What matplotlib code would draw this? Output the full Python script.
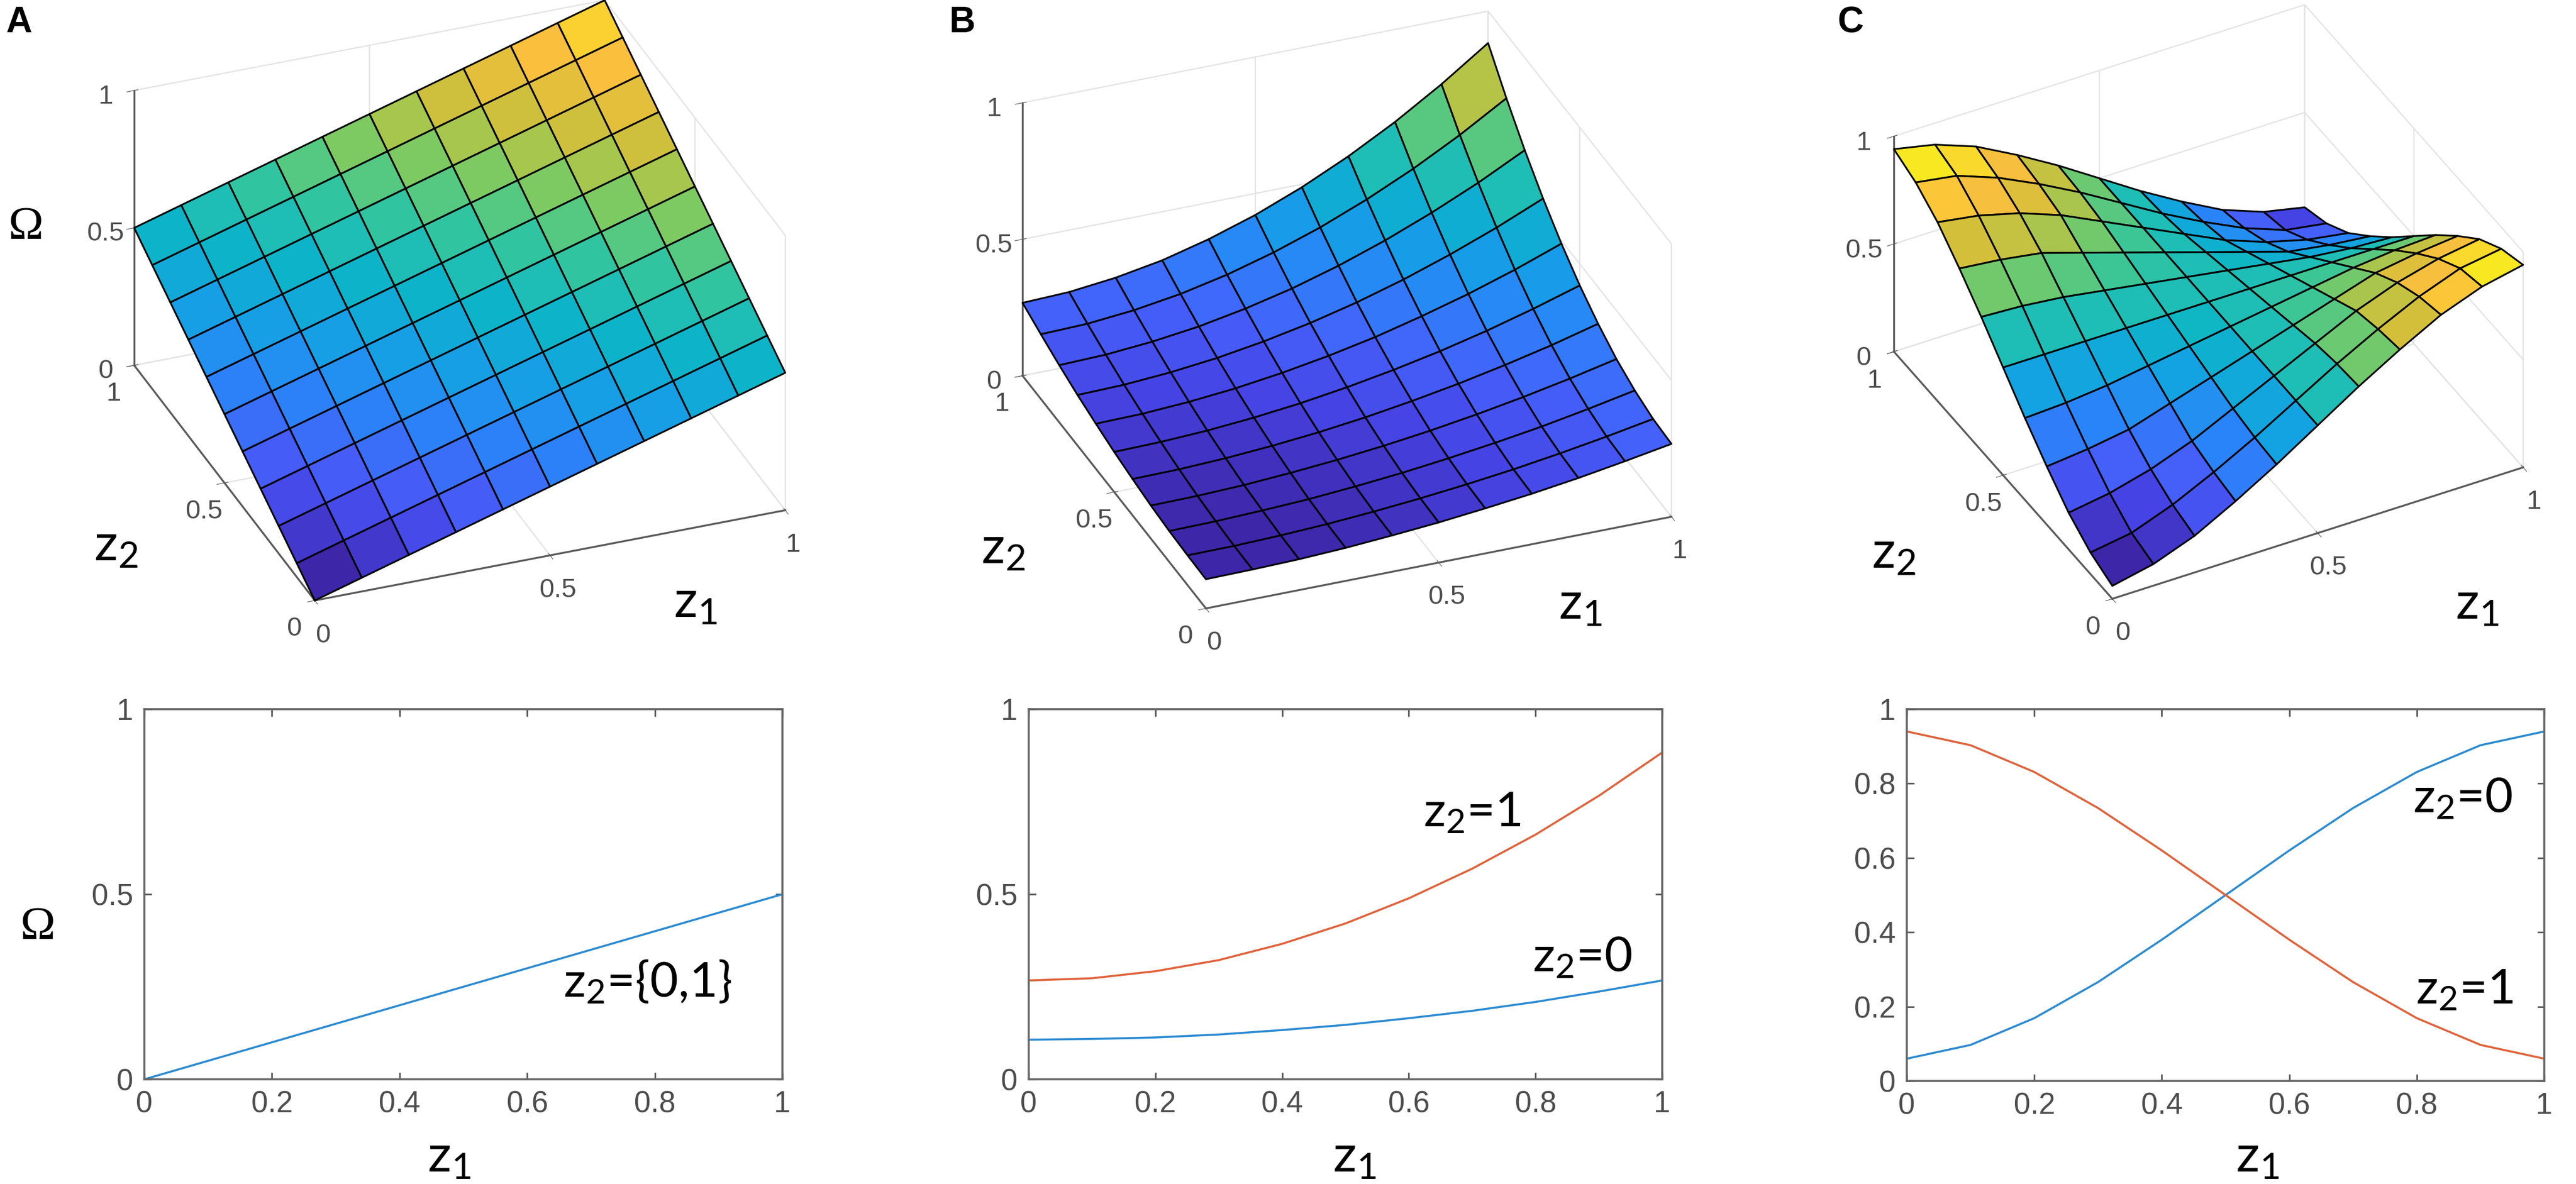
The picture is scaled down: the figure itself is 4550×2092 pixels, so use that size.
import numpy as np
import matplotlib
matplotlib.use('Agg')
import matplotlib.pyplot as plt
from matplotlib import colors
from matplotlib.ticker import FormatStrFormatter
from mpl_toolkits.mplot3d import proj3d

# figure size in pixels
W, H = 4550, 2092
DPI = 100

### data ###

# grid of z1 / z2 values used by MATLAB's surf
z_grid = [0.0, 0.1, 0.2, 0.3, 0.4, 0.5, 0.6, 0.7, 0.8, 0.9, 1.0]

# panel A surface (rows = z2, cols = z1)
omega_a = [
    [0.00, 0.05, 0.10, 0.15, 0.20, 0.25, 0.30, 0.35, 0.40, 0.45, 0.50],
    [0.05, 0.10, 0.15, 0.20, 0.25, 0.30, 0.35, 0.40, 0.45, 0.50, 0.55],
    [0.10, 0.15, 0.20, 0.25, 0.30, 0.35, 0.40, 0.45, 0.50, 0.55, 0.60],
    [0.15, 0.20, 0.25, 0.30, 0.35, 0.40, 0.45, 0.50, 0.55, 0.60, 0.65],
    [0.20, 0.25, 0.30, 0.35, 0.40, 0.45, 0.50, 0.55, 0.60, 0.65, 0.70],
    [0.25, 0.30, 0.35, 0.40, 0.45, 0.50, 0.55, 0.60, 0.65, 0.70, 0.75],
    [0.30, 0.35, 0.40, 0.45, 0.50, 0.55, 0.60, 0.65, 0.70, 0.75, 0.80],
    [0.35, 0.40, 0.45, 0.50, 0.55, 0.60, 0.65, 0.70, 0.75, 0.80, 0.85],
    [0.40, 0.45, 0.50, 0.55, 0.60, 0.65, 0.70, 0.75, 0.80, 0.85, 0.90],
    [0.45, 0.50, 0.55, 0.60, 0.65, 0.70, 0.75, 0.80, 0.85, 0.90, 0.95],
    [0.50, 0.55, 0.60, 0.65, 0.70, 0.75, 0.80, 0.85, 0.90, 0.95, 1.00],
]

# panel B surface
omega_b = [
    [0.107, 0.109, 0.113, 0.121, 0.133, 0.147, 0.165, 0.185, 0.209, 0.237, 0.267],
    [0.109, 0.110, 0.115, 0.123, 0.135, 0.150, 0.168, 0.189, 0.214, 0.242, 0.273],
    [0.113, 0.115, 0.121, 0.129, 0.142, 0.158, 0.178, 0.201, 0.227, 0.258, 0.292],
    [0.121, 0.123, 0.129, 0.140, 0.154, 0.172, 0.194, 0.220, 0.250, 0.284, 0.322],
    [0.133, 0.135, 0.142, 0.154, 0.170, 0.191, 0.217, 0.247, 0.282, 0.321, 0.366],
    [0.147, 0.150, 0.158, 0.172, 0.191, 0.216, 0.246, 0.281, 0.322, 0.369, 0.421],
    [0.165, 0.168, 0.178, 0.194, 0.217, 0.246, 0.281, 0.324, 0.372, 0.427, 0.489],
    [0.185, 0.189, 0.201, 0.220, 0.247, 0.281, 0.323, 0.373, 0.431, 0.496, 0.569],
    [0.209, 0.214, 0.228, 0.250, 0.282, 0.322, 0.372, 0.431, 0.499, 0.575, 0.661],
    [0.237, 0.242, 0.258, 0.284, 0.321, 0.369, 0.427, 0.496, 0.575, 0.665, 0.766],
    [0.267, 0.273, 0.292, 0.322, 0.366, 0.421, 0.489, 0.569, 0.661, 0.766, 0.883],
]

# panel C surface
omega_c = [
    [0.06, 0.10, 0.17, 0.27, 0.38, 0.50, 0.62, 0.73, 0.83, 0.90, 0.94],
    [0.10, 0.13, 0.20, 0.29, 0.39, 0.50, 0.61, 0.71, 0.80, 0.87, 0.90],
    [0.17, 0.20, 0.25, 0.32, 0.41, 0.50, 0.59, 0.68, 0.75, 0.80, 0.83],
    [0.27, 0.29, 0.32, 0.38, 0.44, 0.50, 0.56, 0.62, 0.68, 0.71, 0.73],
    [0.38, 0.39, 0.41, 0.44, 0.47, 0.50, 0.53, 0.56, 0.59, 0.61, 0.62],
    [0.50, 0.50, 0.50, 0.50, 0.50, 0.50, 0.50, 0.50, 0.50, 0.50, 0.50],
    [0.62, 0.61, 0.59, 0.56, 0.53, 0.50, 0.47, 0.44, 0.41, 0.39, 0.38],
    [0.73, 0.71, 0.68, 0.62, 0.56, 0.50, 0.44, 0.38, 0.32, 0.29, 0.27],
    [0.83, 0.80, 0.75, 0.68, 0.59, 0.50, 0.41, 0.32, 0.25, 0.20, 0.17],
    [0.90, 0.87, 0.80, 0.71, 0.61, 0.50, 0.39, 0.29, 0.20, 0.13, 0.10],
    [0.94, 0.90, 0.83, 0.73, 0.62, 0.50, 0.38, 0.27, 0.17, 0.10, 0.06],
]

# bottom row curves
line_a = [0.00, 0.05, 0.10, 0.15, 0.20, 0.25, 0.30, 0.35, 0.40, 0.45, 0.50]
line_b_z0 = [0.107, 0.109, 0.113, 0.121, 0.133, 0.147, 0.165, 0.185, 0.209, 0.237, 0.267]
line_b_z1 = [0.267, 0.273, 0.292, 0.322, 0.366, 0.421, 0.489, 0.569, 0.661, 0.766, 0.883]
line_c_z0 = [0.06, 0.097, 0.169, 0.266, 0.38, 0.50, 0.62, 0.734, 0.831, 0.903, 0.94]
line_c_z1 = [0.94, 0.903, 0.831, 0.734, 0.62, 0.50, 0.38, 0.266, 0.169, 0.097, 0.06]

ticks_3d = [0, 0.5, 1]
xticks_2d = [0, 0.2, 0.4, 0.6, 0.8, 1]

# approximation of MATLAB's parula colormap
parula_pts = [
    (0.00, (0.2422, 0.1504, 0.6603)),
    (0.08, (0.2730, 0.2650, 0.8950)),
    (0.16, (0.2700, 0.3750, 0.9800)),
    (0.26, (0.1650, 0.5200, 0.9750)),
    (0.36, (0.0750, 0.6350, 0.8900)),
    (0.46, (0.0500, 0.7150, 0.7800)),
    (0.56, (0.2100, 0.7750, 0.6100)),
    (0.66, (0.5200, 0.7950, 0.3600)),
    (0.76, (0.8300, 0.7500, 0.2300)),
    (0.86, (0.9900, 0.7500, 0.2400)),
    (0.94, (0.9700, 0.8800, 0.1500)),
    (1.00, (0.9769, 0.9839, 0.0805)),
]
parula = colors.LinearSegmentedColormap.from_list('parula', parula_pts)

blue = '#2b8ad2'
orange = '#e0623a'
tick_grey = '#4d4d4d'

plt.rcParams['font.family'] = ['Liberation Sans', 'DejaVu Sans']
plt.rcParams['mathtext.default'] = 'regular'
plt.rcParams['grid.color'] = '#e3e3e3'
plt.rcParams['grid.linewidth'] = 1.6

fig = plt.figure(figsize=(W / DPI, H / DPI), dpi=DPI)


def px_rect(left, top, width, height):
    # pixel box (from top-left) -> figure fraction rect
    return [left / W, 1 - (top + height) / H, width / W, height / H]


def label(x, y, s, size=66, **kw):
    kw.setdefault('family', ['Lato', 'DejaVu Sans'])
    fig.text(x / W, 1 - y / H, s, fontsize=size, ha='center', va='center', **kw)


def surface_panel(Z, cx, cy, side, elev, azim, zasp):
    ax = fig.add_axes(px_rect(cx - side / 2, cy - side / 2, side, side),
                      projection='3d')
    X, Y = np.meshgrid(z_grid, z_grid)
    Z = np.array(Z)
    norm = colors.Normalize(Z.min(), Z.max())
    ax.plot_surface(X, Y, Z, facecolors=parula(norm(Z)), edgecolor='k',
                    linewidth=2.2, shade=False, rstride=1, cstride=1,
                    antialiased=True)
    ax.set_proj_type('ortho')
    ax.view_init(elev=elev, azim=azim)
    ax.set_box_aspect((1, 1, zasp))
    ax.set_xlim(0, 1)
    ax.set_ylim(0, 1)
    ax.set_zlim(0, 1)
    for axis in (ax.xaxis, ax.yaxis, ax.zaxis):
        axis.set_ticks(ticks_3d)
        axis.set_major_formatter(FormatStrFormatter('%g'))
        axis.set_pane_color((1, 1, 1, 0))
        axis.pane.set_edgecolor('#e0e0e0')
        axis.pane.set_linewidth(1.6)
        axis.line.set_color('#5a5a5a')
        axis.line.set_linewidth(2.4)
    for a in ('x', 'y', 'z'):
        ax.tick_params(axis=a, labelsize=34, labelcolor=tick_grey,
                       color='#5a5a5a', pad=14)
    return ax


def to_px(ax, x, y, z):
    xs, ys, _ = proj3d.proj_transform(x, y, z, ax.M)
    px, py = ax.transData.transform((xs, ys))
    return np.array([px, H - py])


def fit_box(ax, origin, x_end, y_end, top):
    # move / resize a 3D axes so that its box corners land on target pixels
    p0 = to_px(ax, 0, 0, 0)
    px1 = to_px(ax, 1, 0, 0)
    py1 = to_px(ax, 0, 1, 0)
    pz1 = to_px(ax, 0, 1, 1)
    s_h = (x_end[0] - y_end[0]) / (px1[0] - py1[0])
    s_v = (origin[1] - top) / (p0[1] - pz1[1])
    s = 0.5 * (s_h + s_v)
    bb = ax.get_position()
    c = np.array([(bb.x0 + bb.x1) / 2 * W, (1 - (bb.y0 + bb.y1) / 2) * H])
    side = bb.width * W * s
    c_new = np.array(origin) - s * (p0 - c)
    ax.set_position(px_rect(c_new[0] - side / 2, c_new[1] - side / 2,
                            side, side))


def line_panel(rect, yticks):
    ax = fig.add_axes(rect)
    ax.set_xlim(0, 1)
    ax.set_ylim(0, 1)
    ax.set_xticks(xticks_2d)
    ax.set_yticks(yticks)
    ax.xaxis.set_major_formatter(FormatStrFormatter('%g'))
    ax.yaxis.set_major_formatter(FormatStrFormatter('%g'))
    for sp in ax.spines.values():
        sp.set_color('#666666')
        sp.set_linewidth(2.6)
    ax.tick_params(direction='in', length=9, width=2, color='#555555',
                   top=True, right=True, labelsize=38,
                   labelcolor=tick_grey, pad=14)
    return ax


### top row: surfaces ###
ax3a = surface_panel(omega_a, 815, 541, 1000, 30, -111, 0.63)
ax3b = surface_panel(omega_b, 2378, 545, 1000, 30, -111.5, 0.63)
ax3c = surface_panel(omega_c, 3901, 538, 1000, 37, -118, 0.58)

### bottom row: curves ###
ax_a = line_panel(px_rect(255, 1253, 1127, 654), [0, 0.5, 1])
ax_a.plot(z_grid, line_a, color=blue, lw=2.6)
ax_a.text(0.657, 0.263, r'z$_2$={0,1}', fontsize=62, va='center',
          family=['Lato', 'DejaVu Sans'])

ax_b = line_panel(px_rect(1817, 1253, 1119, 654), [0, 0.5, 1])
ax_b.plot(z_grid, line_b_z0, color=blue, lw=2.6)
ax_b.plot(z_grid, line_b_z1, color=orange, lw=2.6)
ax_b.text(0.623, 0.72, r'z$_2$=1', fontsize=62, va='center',
          family=['Lato', 'DejaVu Sans'])
ax_b.text(0.795, 0.33, r'z$_2$=0', fontsize=62, va='center',
          family=['Lato', 'DejaVu Sans'])

ax_c = line_panel(px_rect(3368, 1253, 1126, 657), [0, 0.2, 0.4, 0.6, 0.8, 1])
ax_c.plot(z_grid, line_c_z0, color=blue, lw=2.6)
ax_c.plot(z_grid, line_c_z1, color=orange, lw=2.6)
ax_c.text(0.794, 0.76, r'z$_2$=0', fontsize=62, va='center',
          family=['Lato', 'DejaVu Sans'])
ax_c.text(0.798, 0.245, r'z$_2$=1', fontsize=62, va='center',
          family=['Lato', 'DejaVu Sans'])

### axis labels placed by hand ###
label(46, 402, 'Ω', size=60, family=['Liberation Serif'])
label(67, 1639, 'Ω', size=60, family=['Liberation Serif'])
label(205, 965, r'z$_2$')
label(1228, 1065, r'z$_1$')
label(1772, 970, r'z$_2$')
label(2791, 1068, r'z$_1$')
label(3345, 978, r'z$_2$')
label(4375, 1068, r'z$_1$')
label(793, 2045, r'z$_1$')
label(2392, 2045, r'z$_1$')
label(3987, 2045, r'z$_1$')

# panel letters
for x, s in [(33, 'A'), (1700, 'B'), (3268, 'C')]:
    fig.text(x / W, 1 - 40 / H, s, fontsize=46, fontweight='bold',
             ha='center', va='center', family=['Liberation Sans'])

# place the 3D boxes on the corners
fig.canvas.draw()
fit_box(ax3a, (556, 1061), (1385, 905), (245, 655), 152)
fit_box(ax3b, (2130, 1075), (2947, 899), (1808, 666), 176)
fit_box(ax3c, (3731, 1058), (4452, 832), (3351, 624), 233)

fig.savefig('out.png', dpi=DPI)
